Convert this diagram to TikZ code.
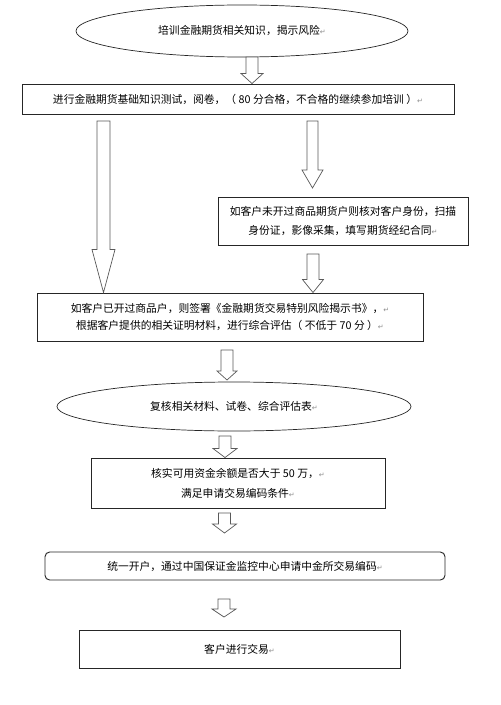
\documentclass[tikz,border=0pt]{standalone}
\usepackage{fontspec}
\setmainfont{Liberation Sans}
\newfontfamily\cjk{Noto Sans CJK SC}
\newfontfamily\markfont{DejaVu Sans}
\usetikzlibrary{shapes.geometric,calc}

% paragraph mark left in the boxes
\newcommand\pmark{\textcolor{black!45}{\markfont\fontsize{6}{6}\selectfont ↵}}
% one picture pixel in pt
\def\pxu{0.8536pt}
% hollow block arrow: from, to, shaft half width, head half width, head length
\newcommand\hollowarrow[5]{%
  \draw[blockarrow] let \p1=#1, \p2=#2 in
    (\x1-#3*\pxu,\y1) -- (\x1-#3*\pxu,\y2+#5*\pxu) -- (\x1-#4*\pxu,\y2+#5*\pxu)
    -- (\x1,\y2) -- (\x1+#4*\pxu,\y2+#5*\pxu) -- (\x1+#3*\pxu,\y2+#5*\pxu)
    -- (\x1+#3*\pxu,\y1) -- cycle;}

\begin{document}
\begin{tikzpicture}[x=0.03cm, y=-0.03cm,
    stepbox/.style={draw=black!85, line width=0.8pt, rectangle, inner sep=0pt,
      align=center, font=\cjk\fontsize{9.2}{16}\selectfont},
    ovalbox/.style={stepbox, ellipse, line width=0.6pt},
    blockarrow/.style={draw=black!65, line width=0.6pt, fill=white}]
  \useasboundingbox (0,0) rectangle (500,705);

  \node[ovalbox, minimum width={332*0.03cm}, minimum height={52*0.03cm}] (train) at (242,31)
    {培训金融期货相关知识，揭示风险\pmark};
  \node[stepbox, minimum width={432*0.03cm}, minimum height={30*0.03cm}] (test) at (238,99)
    {进行金融期货基础知识测试，阅卷，（ 80 分合格，不合格的继续参加培训 ）\pmark};
  \node[stepbox, minimum width={250*0.03cm}, minimum height={48*0.03cm}] (newacc) at (343,221)
    {如客户未开过商品期货户则核对客户身份，扫描\\身份证，影像采集，填写期货经纪合同\pmark};
  \node[stepbox, minimum width={386*0.03cm}, minimum height={48*0.03cm}] (oldacc) at (230,317)
    {如客户已开过商品户，则签署《金融期货交易特别风险揭示书》，\pmark\\[-1.5pt]
     根据客户提供的相关证明材料，进行综合评估（ 不低于 70 分 ）\pmark};
  \node[ovalbox, minimum width={354*0.03cm}, minimum height={49*0.03cm}] (review) at (234,406.5)
    {复核相关材料、试卷、综合评估表\pmark};
  \node[stepbox, minimum width={294*0.03cm}, minimum height={50*0.03cm}] (funds) at (238,483)
    {核实可用资金余额是否大于 50 万，\pmark\\[1pt]满足申请交易编码条件\pmark};
  \node[stepbox, rounded corners=4pt, minimum width={400*0.03cm}, minimum height={28*0.03cm}] (open) at (245,566)
    {统一开户，通过中国保证金监控中心申请中金所交易编码\pmark};
  \node[stepbox, minimum width={321*0.03cm}, minimum height={38*0.03cm}] (trade) at (239.5,649)
    {客户进行交易\pmark};

  % arrow tails and free tips
  \coordinate (t1) at (252,57);
  \coordinate (t2) at (103.5,121);
  \coordinate (t3) at (312.5,121);
  \coordinate (h3) at (312.5,188);
  \coordinate (t4) at (313,254);
  \coordinate (t5) at (227,350);
  \coordinate (h5) at (227,380);
  \coordinate (t6) at (225,436);
  \coordinate (t7) at (224.5,513);
  \coordinate (h7) at (224.5,533);
  \coordinate (t8) at (224,599);
  \coordinate (h8) at (224,617);

  \hollowarrow{(t1)}{(test.north -| t1)}{6}{11}{10}
  \hollowarrow{(t2)}{(oldacc.north -| t2)}{6.5}{11.5}{43}
  \hollowarrow{(t3)}{(h3)}{5.5}{10.5}{18}
  \hollowarrow{(t4)}{(oldacc.north -| t4)}{6}{10.5}{13}
  \hollowarrow{(t5)}{(h5)}{6}{10}{9}
  \hollowarrow{(t6)}{(funds.north -| t6)}{6}{12}{9}
  \hollowarrow{(t7)}{(h7)}{6}{12}{9}
  \hollowarrow{(t8)}{(h8)}{6}{12}{8}
\end{tikzpicture}
\end{document}
